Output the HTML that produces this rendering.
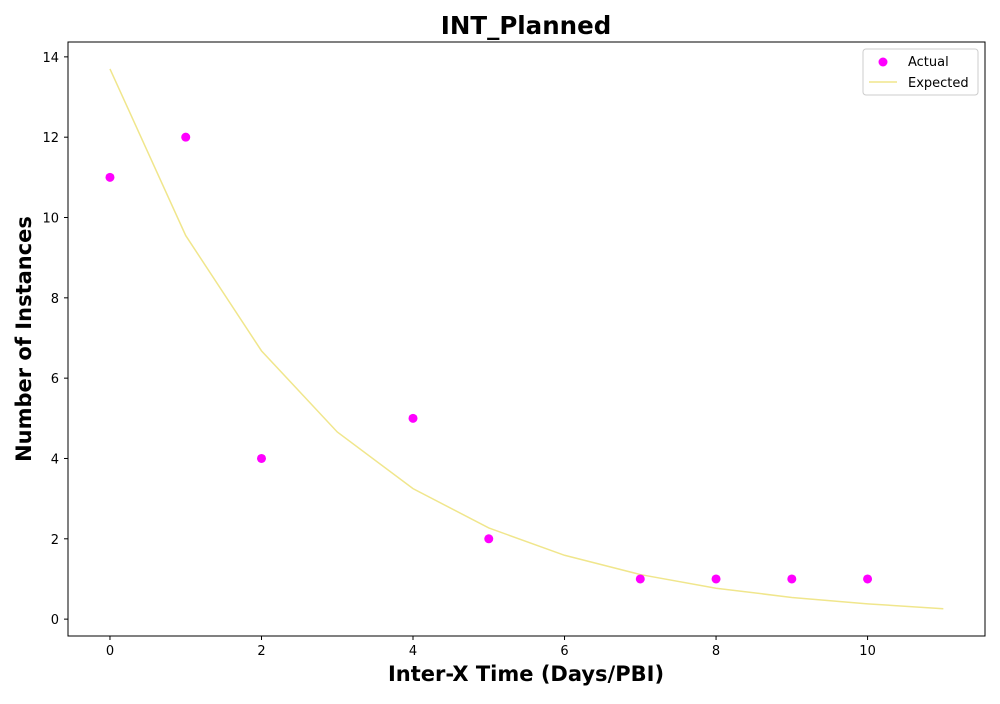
<!DOCTYPE html>
<html><head><meta charset="utf-8"><style>
body{margin:0;background:#fff;font-family:"DejaVu Sans","Liberation Sans",sans-serif}
</style></head><body>
<svg id="c" width="1000" height="700" xmlns="http://www.w3.org/2000/svg" font-family="DejaVu Sans, Liberation Sans, sans-serif"></svg>
<script>
const xCats=[0,1,2,3,4,5,6,7,8,9,10,11];
const expectedVals=[13.7,9.55,6.68,4.66,3.25,2.27,1.59,1.11,0.77,0.54,0.38,0.26];
const actualX=[0,1,2,4,5,7,8,9,10];
const actualY=[11,12,4,5,2,1,1,1,1];
const xTicks=[0,2,4,6,8,10];
const yTicks=[0,2,4,6,8,10,12,14];
const L=68,R=985,T=42,B=636;
const xMin=-0.554,xMax=11.55,yMin=-0.42,yMax=14.37;
const sx=v=>L+(v-xMin)/(xMax-xMin)*(R-L);
const sy=v=>B-(v-yMin)/(yMax-yMin)*(B-T);
const svg=document.getElementById('c');
const NS='http://www.w3.org/2000/svg';
function mk(t,a,txt){const e=document.createElementNS(NS,t);for(const k in a)e.setAttribute(k,a[k]);if(txt!==undefined)e.textContent=txt;svg.appendChild(e);return e;}
let e=mk('rect',{x:L,y:T,width:R-L,height:B-T,fill:'none',stroke:'#000','stroke-width':1});


xTicks.forEach(v=>{
 let t=mk('line',{x1:sx(v),x2:sx(v),y1:B,y2:B+4,stroke:'#000'});
 
 
 let l=mk('text',{x:sx(v),y:B+19,'font-size':13,'text-anchor':'middle'},v);
 
 
});
yTicks.forEach(v=>{
 let t=mk('line',{x1:L-4,x2:L,y1:sy(v),y2:sy(v),stroke:'#000'});
 
 
 let l=mk('text',{x:L-9,y:sy(v)+5,'font-size':13,'text-anchor':'end'},v);
 
 
});
const pts=xCats.map((x,i)=>sx(x)+','+sy(expectedVals[i])).join(' ');
e=mk('polyline',{points:pts,fill:'none',stroke:'#f0e68c','stroke-width':1.5});


actualX.forEach((x,i)=>{
 let c=mk('circle',{cx:sx(x),cy:sy(actualY[i]),r:4.5,fill:'#ff00ff'});
 
 
});
e=mk('text',{x:526,y:34,'font-size':24.5,'font-weight':'bold','text-anchor':'middle'},'INT_Planned');


e=mk('text',{x:526,y:681,'font-size':21,'font-weight':'bold','text-anchor':'middle'},'Inter-X Time (Days/PBI)');


e=mk('text',{x:31,y:339,'font-size':21,'font-weight':'bold','text-anchor':'middle',transform:'rotate(-90 31 339)'},'Number of Instances');


e=mk('rect',{x:863,y:49,width:115,height:46,rx:3,fill:'#fff',stroke:'#ccc'});


e=mk('circle',{cx:883,cy:62,r:4.5,fill:'#ff00ff'});


e=mk('text',{x:908,y:66,'font-size':13},'Actual');


e=mk('line',{x1:869,x2:897,y1:82,y2:82,stroke:'#f0e68c','stroke-width':1.5});


e=mk('text',{x:908,y:87,'font-size':13},'Expected');


</script>
</body></html>
